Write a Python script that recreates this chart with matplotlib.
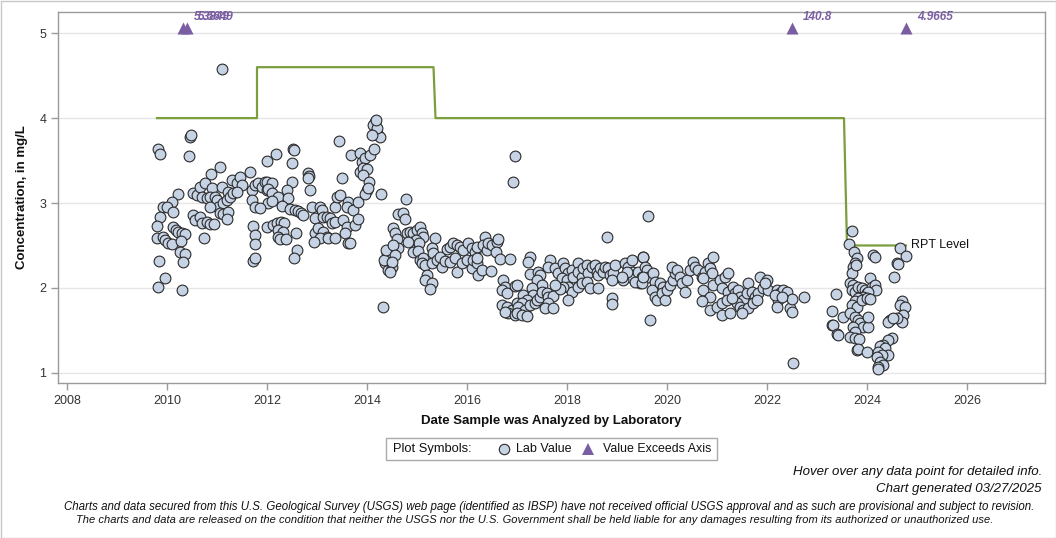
import matplotlib
matplotlib.use("Agg")
import matplotlib.pyplot as plt
from matplotlib import font_manager
from matplotlib.lines import Line2D
from matplotlib.patches import Rectangle
import numpy as np

# ---------------- data ----------------
dates_a = [2011.10, 2010.46, 2010.48, 2009.82, 2009.86, 2010.44, 2011.06, 2011.66, 2010.88, 2010.22,
           2010.10, 2009.92, 2010.00, 2009.86, 2010.12, 2009.80, 2009.80, 2009.92, 2009.96, 2010.02,
           2010.10, 2010.12, 2010.18, 2010.22, 2010.30, 2010.36, 2010.28, 2010.26, 2010.36, 2009.84,
           2010.32, 2009.96, 2009.82, 2010.30, 2010.74,
           2010.52, 2010.60, 2010.66, 2010.76, 2010.90, 2011.10, 2011.22, 2011.30, 2011.40, 2011.46, 2011.50,
           2010.70, 2010.80, 2010.86, 2010.96, 2011.00, 2011.02, 2011.12, 2011.20, 2011.26, 2011.32, 2011.40,
           2010.86, 2011.06, 2011.12, 2011.22,
           2010.52, 2010.56, 2010.66, 2010.70, 2010.80, 2010.86, 2010.94, 2011.20,
           2011.70, 2011.76, 2011.82, 2011.90, 2011.96, 2012.00, 2012.02, 2011.70, 2011.76, 2011.86,
           2011.72, 2011.76, 2011.76, 2011.72, 2011.76, 2012.00]
vals_a = [4.58, 3.78, 3.80, 3.64, 3.58, 3.55, 3.42, 3.36, 3.34, 3.11,
          3.01, 2.95, 2.95, 2.84, 2.90, 2.73, 2.59, 2.60, 2.56, 2.53,
          2.52, 2.72, 2.68, 2.66, 2.65, 2.64, 2.55, 2.42, 2.40, 2.32,
          2.31, 2.12, 2.01, 1.98, 2.59,
          3.12, 3.09, 3.19, 3.24, 3.18, 3.19, 3.13, 3.27, 3.24, 3.31, 3.21,
          3.07, 3.06, 3.07, 3.07, 3.04, 2.95, 3.00, 3.04, 3.07, 3.12, 3.13,
          2.95, 2.88, 2.87, 2.89,
          2.86, 2.80, 2.84, 2.76, 2.78, 2.75, 2.75, 2.81,
          3.15, 3.21, 3.24, 3.19, 3.25, 3.15, 3.00, 3.04, 2.95, 2.94,
          2.73, 2.62, 2.52, 2.32, 2.35, 2.72]

dates_b = [2012.00, 2012.18, 2012.52, 2012.54, 2012.50, 2012.82, 2012.84, 2012.82, 2012.86, 2012.50,
           2012.00, 2012.10, 2012.02, 2012.10, 2012.22, 2012.10, 2012.40, 2012.42,
           2012.30, 2012.46, 2012.56, 2012.62, 2012.68, 2012.72,
           2012.90, 2012.96, 2013.06, 2013.10, 2013.12, 2013.20, 2013.26, 2013.30, 2013.36,
           2012.12, 2012.20, 2012.28, 2012.34, 2012.22, 2012.32, 2012.22, 2012.26, 2012.38,
           2012.58, 2012.60, 2012.54,
           2012.96, 2013.02, 2013.12, 2013.20, 2013.06, 2012.94, 2013.22, 2013.36,
           2013.36, 2013.40, 2013.46, 2013.50, 2013.44,
           2013.62, 2013.60, 2013.72, 2013.82,
           2013.52, 2013.60, 2013.56, 2013.62, 2013.66, 2013.76, 2013.82,
           2013.68, 2013.86, 2013.90, 2013.96, 2014.06, 2014.14,
           2013.86, 2013.92, 2014.00, 2013.92, 2014.04, 2014.00, 2013.96, 2014.02, 2014.28,
           2014.16, 2014.12, 2014.16, 2014.22, 2014.26, 2014.20, 2014.10, 2014.18,
           2014.40, 2014.46, 2014.36, 2014.42, 2014.50, 2014.52, 2014.32, 2014.34, 2014.38]
vals_b = [3.49, 3.58, 3.64, 3.63, 3.47, 3.35, 3.32, 3.29, 3.15, 3.25,
          3.25, 3.24, 3.16, 3.12, 3.07, 3.02, 3.15, 3.06,
          2.96, 2.93, 2.92, 2.91, 2.88, 2.86,
          2.95, 2.82, 2.95, 2.92, 2.84, 2.84, 2.82, 2.76, 2.78,
          2.74, 2.76, 2.78, 2.76, 2.68, 2.66, 2.60, 2.58, 2.58,
          2.65, 2.45, 2.35,
          2.65, 2.71, 2.66, 2.60, 2.59, 2.54, 2.59, 2.59,
          2.95, 3.07, 3.09, 3.29, 3.73,
          3.01, 2.95, 2.92, 3.01,
          2.80, 2.72, 2.65, 2.53, 2.53, 2.74, 2.81,
          3.56, 3.59, 3.48, 3.53, 3.56, 3.64,
          3.36, 3.41, 3.40, 3.33, 3.25, 3.15, 3.11, 3.18, 3.11,
          3.95, 3.92, 3.82, 3.80, 3.78, 3.88, 3.80, 3.98,
          2.41, 2.35, 2.29, 2.21, 2.25, 2.71, 1.78, 2.33, 2.45]

dates_c = [2014.78, 2014.62, 2014.72, 2014.76, 2014.56, 2014.60, 2014.62, 2014.52, 2014.56, 2014.50, 2014.46,
           2014.80, 2014.86, 2014.92, 2015.00, 2015.06, 2015.10, 2015.12, 2014.90, 2014.98, 2015.04, 2014.82,
           2014.92, 2015.02, 2015.06, 2015.12, 2015.10, 2015.16, 2015.20, 2015.16, 2015.30, 2015.26,
           2015.36, 2015.30, 2015.32, 2015.30, 2015.40, 2015.46, 2015.50, 2015.56, 2015.60,
           2015.66, 2015.72, 2015.80, 2015.86, 2015.92, 2016.02, 2016.10, 2016.16, 2016.20,
           2015.66, 2015.76, 2015.80, 2015.90, 2016.00, 2016.10, 2016.12, 2016.20, 2016.22, 2016.30, 2016.20,
           2016.36, 2016.32, 2016.40, 2016.42, 2016.50, 2016.60, 2016.62, 2016.58, 2016.66, 2016.48, 2016.86,
           2016.72, 2016.76, 2016.70, 2016.80, 2016.96,
           2016.70, 2016.80, 2016.90, 2016.82, 2016.76, 2017.00, 2017.02, 2016.96]
vals_c = [3.05, 2.87, 2.88, 2.81, 2.65, 2.58, 2.47, 2.51, 2.39, 2.31, 2.19,
          2.65, 2.66, 2.65, 2.68, 2.72, 2.65, 2.60, 2.54, 2.56, 2.53, 2.54,
          2.42, 2.44, 2.33, 2.35, 2.29, 2.27, 2.15, 2.09, 2.06, 1.99,
          2.59, 2.47, 2.41, 2.29, 2.33, 2.36, 2.25, 2.32, 2.46,
          2.48, 2.53, 2.51, 2.48, 2.45, 2.53, 2.47, 2.42, 2.48,
          2.31, 2.35, 2.19, 2.29, 2.33, 2.24, 2.33, 2.29, 2.15, 2.21, 2.35,
          2.60, 2.51, 2.45, 2.53, 2.51, 2.54, 2.58, 2.42, 2.34, 2.20, 2.34,
          2.09, 2.01, 1.98, 1.94, 2.02,
          1.80, 1.78, 1.74, 1.71, 1.72, 1.82, 1.72, 1.68]

dates_d = [2016.96, 2016.92, 2017.26, 2017.22, 2017.00, 2017.26, 2017.42, 2017.46, 2017.40, 2017.50,
           2017.12, 2017.30, 2017.32, 2017.20, 2017.10, 2017.02, 2017.16, 2017.26, 2017.36, 2017.40, 2017.46,
           2017.50, 2017.60, 2017.62, 2017.72, 2017.62, 2017.56, 2017.72, 2017.00, 2017.10, 2017.20,
           2017.66, 2017.62, 2017.76, 2017.82, 2017.92, 2017.96, 2018.02, 2017.90, 2018.00, 2018.10,
           2018.12, 2018.22, 2018.22, 2018.30, 2018.32, 2018.40, 2018.42, 2018.50, 2018.56, 2018.60,
           2018.62, 2018.66, 2018.72, 2018.76, 2018.82, 2018.86, 2018.92, 2018.96, 2018.90, 2018.02,
           2018.10, 2018.22, 2018.30, 2018.40, 2018.46, 2018.62, 2017.92, 2017.86, 2017.76,
           2018.02, 2018.80, 2018.90, 2018.90,
           2019.16, 2019.22, 2019.30, 2019.32, 2019.26, 2019.12, 2019.42, 2019.50, 2019.52, 2019.46,
           2019.36, 2019.20, 2019.10]
vals_d = [3.55, 3.25, 2.36, 2.31, 2.04, 2.16, 2.19, 2.15, 2.09, 2.04,
          1.92, 2.00, 1.92, 1.86, 1.82, 1.78, 1.74, 1.80, 1.82, 1.86, 1.89,
          1.95, 1.94, 1.89, 1.91, 1.82, 1.76, 1.76, 1.71, 1.68, 1.67,
          2.33, 2.25, 2.24, 2.18, 2.29, 2.24, 2.18, 2.12, 2.09, 2.21,
          2.13, 2.29, 2.19, 2.13, 2.24, 2.27, 2.18, 2.25, 2.27, 2.19,
          2.15, 2.24, 2.19, 2.25, 2.24, 2.15, 2.18, 2.27, 2.09, 2.01,
          1.95, 2.01, 2.06, 2.07, 2.00, 2.00, 2.01, 1.99, 2.04,
          1.86, 2.60, 1.88, 1.81,
          2.29, 2.25, 2.33, 2.19, 2.13, 2.09, 2.19, 2.13, 2.36, 2.06,
          2.07, 2.19, 2.13]

dates_e = [2019.62, 2019.52, 2019.56, 2019.60, 2019.62, 2019.50, 2019.52,
           2019.72, 2019.76, 2019.70, 2019.76, 2019.80, 2019.86, 2019.92, 2019.90, 2019.96, 2020.00,
           2020.06, 2020.12, 2020.16, 2020.10, 2020.20, 2020.26, 2020.30, 2020.40, 2020.36, 2020.46,
           2020.52, 2020.56, 2020.62, 2020.70, 2020.76, 2020.82, 2020.86, 2020.90, 2020.92, 2020.72,
           2019.66, 2020.72, 2020.86, 2020.70, 2020.86, 2021.00, 2021.10,
           2020.92, 2021.06, 2021.16, 2021.22, 2021.10, 2021.22, 2021.32, 2021.36, 2021.42, 2021.46,
           2021.52, 2021.60, 2021.62, 2021.70, 2021.76, 2021.82, 2021.86, 2021.92, 2022.00, 2022.02,
           2021.96, 2021.40, 2021.46, 2021.52, 2021.62, 2021.72, 2021.80, 2021.26, 2021.50, 2021.10,
           2021.20, 2021.30,
           2022.20, 2022.26, 2022.32, 2022.40, 2022.22, 2022.20, 2022.46, 2022.50, 2022.50, 2022.74,
           2022.16, 2022.30, 2022.52]
vals_e = [2.85, 2.37, 2.25, 2.21, 2.13, 2.06, 2.13,
          2.18, 2.07, 1.98, 1.89, 1.86, 2.06, 2.01, 1.94, 1.86, 1.98,
          2.04, 2.09, 2.18, 2.25, 2.21, 2.13, 2.06, 2.09, 1.95, 2.21,
          2.31, 2.25, 2.21, 2.13, 2.19, 2.29, 2.24, 2.18, 2.36, 2.12,
          1.62, 1.98, 1.89, 1.84, 1.74, 1.78, 1.68,
          2.04, 2.09, 2.13, 2.18, 2.00, 1.95, 2.01, 1.94, 1.98, 1.89,
          1.86, 1.94, 2.06, 1.95, 1.89, 1.94, 2.13, 2.00, 2.09, 1.98,
          2.06, 1.82, 1.78, 1.74, 1.76, 1.82, 1.86, 1.71, 1.71, 1.82,
          1.86, 1.88,
          1.98, 1.94, 1.98, 1.95, 1.86, 1.78, 1.76, 1.72, 1.87, 1.89,
          1.92, 1.89, 1.12]

dates_f = [2023.70, 2023.64, 2023.38, 2023.30, 2023.52, 2023.30, 2023.32, 2023.40, 2023.42,
           2023.74, 2023.80, 2023.76, 2023.72, 2023.70, 2023.78,
           2023.66, 2023.72, 2023.70, 2023.76, 2023.82, 2023.90, 2023.96, 2024.00, 2024.06, 2024.10,
           2024.16, 2024.18, 2024.02, 2023.92, 2023.82, 2023.76, 2023.70, 2023.80, 2023.90, 2024.00, 2024.06,
           2023.66, 2023.76, 2023.82, 2023.86, 2023.92, 2024.02, 2024.02, 2023.72, 2023.76, 2023.66,
           2023.76, 2023.84, 2023.80, 2023.82, 2024.00,
           2024.12, 2024.16, 2024.54, 2024.60, 2024.62, 2024.66, 2024.78,
           2024.70, 2024.66, 2024.76, 2024.72, 2024.70, 2024.60, 2024.46, 2024.42, 2024.52,
           2024.50, 2024.42, 2024.32, 2024.26, 2024.36, 2024.22, 2024.42, 2024.30, 2024.20, 2024.26,
           2024.32, 2024.22, 2024.22]
vals_f = [2.67, 2.52, 1.93, 1.73, 1.66, 1.56, 1.56, 1.46, 1.45,
          2.42, 2.35, 2.29, 2.25, 2.18, 2.27,
          2.06, 2.04, 1.98, 1.95, 2.01, 2.00, 1.98, 1.94, 2.12, 2.01,
          2.04, 1.98, 1.95, 1.89, 1.88, 1.84, 1.80, 1.78, 1.86, 1.88, 1.87,
          1.71, 1.66, 1.62, 1.59, 1.54, 1.54, 1.66, 1.54, 1.48, 1.42,
          1.41, 1.40, 1.27, 1.28, 1.24,
          2.39, 2.36, 2.13, 2.29, 2.28, 2.47, 2.38,
          1.85, 1.80, 1.78, 1.68, 1.60, 1.65, 1.62, 1.60, 1.65,
          1.41, 1.39, 1.33, 1.31, 1.29, 1.25, 1.21, 1.21, 1.19, 1.13,
          1.09, 1.07, 1.04]

# values beyond the axis (plotted at top with their value labels)
exceed_dates = [2010.32, 2010.40, 2022.50, 2024.78]
exceed_labels = ["5.3849", "5.5649", "140.8", "4.9665"]
exceed_plot_y = 5.06

# RPT level step line
rpt_dates = [2009.80, 2011.80, 2011.80, 2015.33, 2015.37, 2023.54, 2023.60, 2024.78]
rpt_vals = [4.0, 4.0, 4.6, 4.6, 4.0, 4.0, 2.5, 2.5]

x_ticks = [2008, 2010, 2012, 2014, 2016, 2018, 2020, 2022, 2024, 2026]
y_ticks = [1, 2, 3, 4, 5]

# ---------------- fonts ----------------
avail = {f.name for f in font_manager.fontManager.ttflist}
base_font = "Liberation Sans" if "Liberation Sans" in avail else "DejaVu Sans"
narrow_font = "Liberation Sans Narrow" if "Liberation Sans Narrow" in avail else base_font
plt.rcParams["font.family"] = [base_font, "DejaVu Sans"]

W, H = 1056, 538
fig = plt.figure(figsize=(W / 100, H / 100), dpi=100)
fig.patch.set_facecolor("white")

L, R, T, B = 58, 1045, 12, 383
ax = fig.add_axes([L / W, 1 - B / H, (R - L) / W, (B - T) / H])

ax.set_xlim(2007.82, 2027.56)
ax.set_ylim(0.88, 5.25)

for s in ax.spines.values():
    s.set_color("#9a9a9a")
    s.set_linewidth(1.0)

ax.set_xticks(x_ticks)
ax.set_yticks(y_ticks)
ax.tick_params(axis="both", colors="#9a9a9a", labelcolor="#333333", labelsize=9, length=5, width=1)
ax.grid(axis="y", color="#e6e6e6", linewidth=1.0)
ax.set_axisbelow(True)

dates = dates_a + dates_b + dates_c + dates_d + dates_e + dates_f
vals = vals_a + vals_b + vals_c + vals_d + vals_e + vals_f

ax.plot(rpt_dates, rpt_vals, color="#7b9e3e", linewidth=1.6, zorder=2)
ax.scatter(dates, vals, s=60, facecolor="#c6d3e5", edgecolor="#2a2a2a", linewidth=0.8, zorder=3)

ax.scatter(exceed_dates, [exceed_plot_y] * len(exceed_dates), marker="^", s=75,
           color="#7a5ea3", zorder=4, linewidth=0)
for d, lab in zip(exceed_dates, exceed_labels):
    ax.annotate(lab, (d, exceed_plot_y), xytext=(8, 3.5), textcoords="offset points",
                color="#7a5ea3", fontsize=8.5, fontweight="bold", fontstyle="italic",
                ha="left", va="bottom")

ax.text(2024.88, 2.5, "RPT Level", fontsize=9, color="#111111", ha="left", va="center")

ax.set_ylabel("Concentration, in mg/L", fontsize=9.5, fontweight="bold", color="#111111", labelpad=8)
ax.set_xlabel("Date Sample was Analyzed by Laboratory", fontsize=9.5, fontweight="bold",
              color="#111111", labelpad=6)

# legend box
lx0, ly0, lx1, ly1 = 386, 438, 717, 460
fig.add_artist(Rectangle((lx0 / W, 1 - ly1 / H), (lx1 - lx0) / W, (ly1 - ly0) / H,
                         transform=fig.transFigure, facecolor="white", edgecolor="#aaaaaa", linewidth=1))
ly = 1 - 449 / H
fig.text(393 / W, ly, "Plot Symbols:", fontsize=9.3, color="#111111", ha="left", va="center")
fig.add_artist(Line2D([504 / W], [ly], marker="o", markersize=7.5, markerfacecolor="#c6d3e5",
                      markeredgecolor="#2a2a2a", markeredgewidth=0.8, linestyle="none",
                      transform=fig.transFigure))
fig.text(516 / W, ly, "Lab Value", fontsize=9.0, color="#111111", ha="left", va="center")
fig.add_artist(Line2D([588 / W], [ly], marker="^", markersize=8, markerfacecolor="#7a5ea3",
                      markeredgewidth=0, linestyle="none", transform=fig.transFigure))
fig.text(603 / W, ly, "Value Exceeds Axis", fontsize=8.9, color="#111111", ha="left", va="center")

# footer
fig.text(1042 / W, 1 - 472 / H, "Hover over any data point for detailed info.", family=narrow_font,
         fontsize=9.5, fontstyle="italic", color="#111111", ha="right", va="center")
fig.text(1042 / W, 1 - 489 / H, "Chart generated 03/27/2025", family=narrow_font,
         fontsize=9.5, fontstyle="italic", color="#111111", ha="right", va="center")
fig.text(64 / W, 1 - 507 / H,
         "Charts and data secured from this U.S. Geological Survey (USGS) web page (identified as IBSP) have not received official USGS approval and as such are provisional and subject to revision.",
         family=narrow_font, fontsize=8.3, fontstyle="italic", color="#111111", ha="left", va="center")
fig.text(76 / W, 1 - 520 / H,
         "The charts and data are released on the condition that neither the USGS nor the U.S. Government shall be held liable for any damages resulting from its authorized or unauthorized use.",
         family=narrow_font, fontsize=8.0, fontstyle="italic", color="#111111", ha="left", va="center")

# outer border
fig.add_artist(Rectangle((0.5 / W, 0.5 / H), (W - 1) / W, (H - 1) / H, transform=fig.transFigure,
                         facecolor="none", edgecolor="#c8c8c8", linewidth=1))

fig.savefig("out.png", dpi=100, facecolor="white")
